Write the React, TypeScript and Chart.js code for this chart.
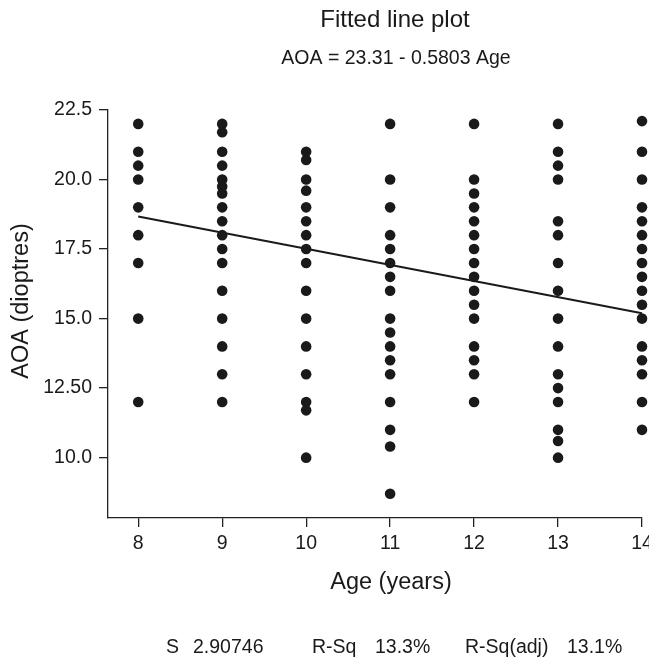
import React, { useEffect, useRef } from "react";
import { Chart, registerables } from "chart.js";

Chart.register(...registerables);

// ---- Data ----
const ages = [8, 9, 10, 11, 12, 13, 14];
const aoaAge8 = [22, 21, 20.5, 20, 19, 18, 17, 15, 12];
const aoaAge9 = [22, 21.7, 21, 20.5, 20, 19.75, 19.5, 19, 18.5, 18, 17.5, 17, 16, 15, 14, 13, 12];
const aoaAge10 = [21, 20.7, 20, 19.6, 19, 18.5, 18, 17.5, 17, 16, 15, 14, 13, 12, 11.7, 10];
const aoaAge11 = [22, 20, 19, 18, 17.5, 17, 16.5, 16, 15, 14.5, 14, 13.5, 13, 12, 11, 10.4, 8.7];
const aoaAge12 = [22, 20, 19.5, 19, 18.5, 18, 17.5, 17, 16.5, 16, 15.5, 15, 14, 13.5, 13, 12];
const aoaAge13 = [22, 21, 20.5, 20, 18.5, 18, 17, 16, 15, 14, 13, 12.5, 12, 11, 10.6, 10];
const aoaAge14 = [22.1, 21, 20, 19, 18.5, 18, 17.5, 17, 16.5, 16, 15.5, 15, 14, 13.5, 13, 12, 11];
const aoaByAge = [aoaAge8, aoaAge9, aoaAge10, aoaAge11, aoaAge12, aoaAge13, aoaAge14];

const fitAge = [8, 14];
const fitAOA = [18.67, 15.19];

const xTickValues = [8, 9, 10, 11, 12, 13, 14];
const yTickValues = [10, 12.5, 15, 17.5, 20, 22.5];
const yTickLabels = ["10.0", "12.50", "15.0", "17.5", "20.0", "22.5"];

const chartTitle = "Fitted line plot";
const chartSubtitle = "AOA = 23.31 - 0.5803 Age";
const xTitle = "Age (years)";
const yTitle = "AOA (dioptres)";
const statTexts = ["S", "2.90746", "R-Sq", "13.3%", "R-Sq(adj)", "13.1%"];

const FONT = '"Liberation Sans", Arial, Helvetica, sans-serif';
const INK = "#1a1a1a";

const textPlugin = {
  id: "textPlugin",
  afterDraw(chart: any) {
    const ctx = chart.ctx;
    ctx.save();
    ctx.fillStyle = INK;
    ctx.textBaseline = "middle";
    ctx.textAlign = "center";
    ctx.font = `24px ${FONT}`;
    ctx.fillText(chartTitle, 395, 20);
    ctx.font = `19.5px ${FONT}`;
    ctx.fillText(chartSubtitle, 396, 59);
    ctx.font = `23.5px ${FONT}`;
    ctx.fillText(xTitle, 391, 583);
    ctx.save();
    ctx.translate(22, 301);
    ctx.rotate(-Math.PI / 2);
    ctx.fillText(yTitle, 0, 0);
    ctx.restore();
    ctx.font = `19.5px ${FONT}`;
    ctx.textAlign = "left";
    const xs = [166, 193, 312, 375, 465, 567];
    statTexts.forEach((t, i) => ctx.fillText(t, xs[i], 648));
    ctx.restore();
  },
};

export default function App() {
  const ref = useRef<HTMLCanvasElement | null>(null);

  useEffect(() => {
    if (!ref.current) return;
    const points: { x: number; y: number }[] = [];
    ages.forEach((a, i) => aoaByAge[i].forEach((v) => points.push({ x: a, y: v })));
    const fitPoints = fitAge.map((a, i) => ({ x: a, y: fitAOA[i] }));

    const chart = new Chart(ref.current, {
      type: "scatter",
      data: {
        datasets: [
          {
            data: points,
            backgroundColor: INK,
            borderColor: INK,
            pointRadius: 5.3,
            pointBorderWidth: 0,
            clip: false as any,
            order: 2,
          },
          {
            data: fitPoints,
            showLine: true,
            borderColor: INK,
            borderWidth: 2,
            pointRadius: 0,
            clip: false as any,
            order: 1,
          } as any,
        ],
      },
      options: {
        responsive: false,
        animation: false,
        devicePixelRatio: 1,
        events: [],
        layout: { padding: { left: 0, right: 7, top: 110, bottom: 0 } },
        plugins: {
          legend: { display: false },
          title: { display: false },
          tooltip: { enabled: false },
        },
        scales: {
          x: {
            type: "linear",
            min: 7.64,
            max: 14,
            afterBuildTicks: (s: any) => {
              s.ticks = xTickValues.map((v) => ({ value: v }));
            },
            afterFit: (s: any) => {
              s.height = 140;
              s.paddingLeft = 0;
              s.paddingRight = 0;
            },
            border: { display: true, color: "#222", width: 1.3 },
            grid: {
              display: true,
              drawOnChartArea: false,
              drawTicks: true,
              tickLength: 9,
              color: "#222",
              lineWidth: 1.3,
            },
            ticks: {
              color: INK,
              font: { family: FONT, size: 19.5 },
              padding: 5,
              maxRotation: 0,
              autoSkip: false,
              callback: (v: any) => String(v),
            },
          },
          y: {
            type: "linear",
            min: 7.83,
            max: 22.5,
            afterBuildTicks: (s: any) => {
              s.ticks = yTickValues.map((v) => ({ value: v }));
            },
            afterFit: (s: any) => {
              s.width = 108;
              s.paddingTop = 0;
              s.paddingBottom = 0;
            },
            border: { display: true, color: "#222", width: 1.3 },
            grid: {
              display: true,
              drawOnChartArea: false,
              drawTicks: true,
              tickLength: 9,
              color: "#222",
              lineWidth: 1.3,
            },
            ticks: {
              color: INK,
              font: { family: FONT, size: 19.5 },
              padding: 7,
              autoSkip: false,
              callback: (_v: any, i: number) => yTickLabels[i],
            },
          },
        },
      },
      plugins: [textPlugin],
    });
    return () => chart.destroy();
  }, []);

  return (
    <div style={{ position: "absolute", left: 0, top: 0, width: 649, height: 658, background: "#fff" }}>
      <canvas ref={ref} width={649} height={658} />
    </div>
  );
}
